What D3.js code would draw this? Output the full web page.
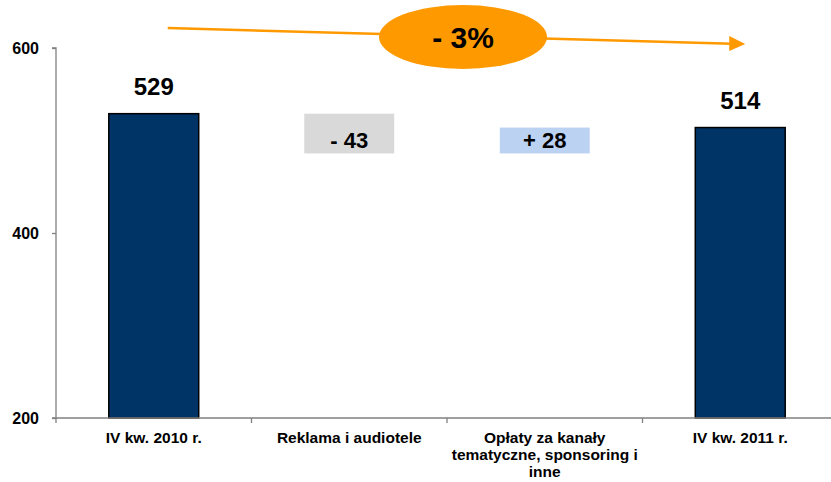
<!DOCTYPE html>
<html>
<head>
<meta charset="utf-8">
<script src="https://cdn.jsdelivr.net/npm/d3@7"></script>
<style>
  html, body { margin: 0; padding: 0; background: #ffffff; }
  svg { display: block; font-family: "Liberation Sans", Arial, sans-serif; }
</style>
</head>
<body>
<svg id="chart" width="831" height="482"></svg>
<script>
// ---- data ----
const categories = ["IV kw. 2010 r.", "Reklama i audiotele", "Opłaty za kanały tematyczne, sponsoring i inne", "IV kw. 2011 r."];
const values = [529, -43, 28, 514];
const kinds = ["total", "delta", "delta", "total"];
const valueLabels = ["529", "- 43", "+ 28", "514"];
const yTicks = [200, 400, 600];
const changeLabel = "- 3%";

// ---- layout ----
const plotLeft = 56, plotRight = 838, plotTop = 48, plotBottom = 418;
const svg = d3.select("#chart");

const x = d3.scaleBand().domain(categories).range([plotLeft, plotRight]).padding(0);
const y = d3.scaleLinear().domain([200, 600]).range([plotBottom, plotTop]);
const barW = x.bandwidth() * 0.46;

// waterfall
let running = 0;
const bars = categories.map((c, i) => {
  let y0, y1;
  if (kinds[i] === "total") { y0 = 200; y1 = values[i]; running = values[i]; }
  else { y0 = running; y1 = running + values[i]; running = y1; }
  return { cat: c, lo: Math.min(y0, y1), hi: Math.max(y0, y1), kind: kinds[i], v: values[i], label: valueLabels[i] };
});

const fillFor = d => d.kind === "total" ? "#003366" : (d.v < 0 ? "#D9D9D9" : "#BCD2F2");

svg.selectAll("rect.bar").data(bars).enter().append("rect")
  .attr("class", "bar")
  .attr("x", d => x(d.cat) + (x.bandwidth() - barW) / 2)
  .attr("width", barW)
  .attr("y", d => y(d.hi))
  .attr("height", d => y(d.lo) - y(d.hi))
  .attr("fill", fillFor)
  .attr("stroke", d => d.kind === "total" ? "#000" : "none")
  .attr("stroke-width", 1.5);

// value labels
svg.selectAll("text.val").data(bars).enter().append("text")
  .attr("class", "val")
  .attr("x", d => x(d.cat) + x.bandwidth() / 2)
  .attr("y", d => d.kind === "total" ? y(d.hi) - 19 : y(d.lo) - 5)
  .attr("text-anchor", "middle")
  .attr("font-weight", "bold")
  .attr("font-size", d => d.kind === "total" ? 24 : 22)
  .attr("fill", "#000")
  .text(d => d.label);

// y axis
const yAxis = d3.axisLeft(y).tickValues(yTicks).tickSize(4).tickPadding(13).tickFormat(d3.format("d"));
const gy = svg.append("g").attr("transform", `translate(${plotLeft},0)`).call(yAxis);
gy.select(".domain").attr("stroke", "#808080").attr("stroke-width", 1.3).attr("d", `M-4,${plotTop}H0V${plotBottom}H-4`);
gy.selectAll(".tick line").attr("stroke", "#808080").attr("stroke-width", 1.3);
gy.selectAll(".tick text").attr("font-size", 16).attr("font-weight", "bold").attr("fill", "#000")
  .attr("font-family", "Liberation Sans, Arial, sans-serif");

// x axis
const gx = svg.append("g").attr("transform", `translate(0,${plotBottom})`);
gx.append("line").attr("x1", plotLeft).attr("x2", plotRight).attr("y1", 0).attr("y2", 0)
  .attr("stroke", "#808080").attr("stroke-width", 1.3);
const bounds = categories.map(c => x(c)).concat([plotRight]);
gx.selectAll("line.tk").data(bounds).enter().append("line").attr("class", "tk")
  .attr("x1", d => d).attr("x2", d => d).attr("y1", 0).attr("y2", 5)
  .attr("stroke", "#808080").attr("stroke-width", 1.3);

// category labels with wrapping
const catFont = 15.5;
const maxW = x.bandwidth() - 4;
const measurer = svg.append("text").attr("font-size", catFont).attr("font-weight", "bold").attr("visibility", "hidden");
function wrapLines(str) {
  const words = str.split(" ");
  const lines = [];
  let cur = "";
  words.forEach(w => {
    const test = cur ? cur + " " + w : w;
    measurer.text(test);
    if (measurer.node().getComputedTextLength() > maxW && cur) { lines.push(cur); cur = w; }
    else cur = test;
  });
  if (cur) lines.push(cur);
  return lines;
}
categories.forEach(c => {
  const lines = wrapLines(c);
  const t = svg.append("text")
    .attr("x", x(c) + x.bandwidth() / 2)
    .attr("y", 443)
    .attr("text-anchor", "middle")
    .attr("font-size", catFont)
    .attr("font-weight", "bold")
    .attr("fill", "#000");
  lines.forEach((l, i) => {
    t.append("tspan").attr("x", x(c) + x.bandwidth() / 2).attr("dy", i === 0 ? 0 : 17).text(l);
  });
});
measurer.remove();

// change annotation (arrow + ellipse)
const orange = "#FF9900";
const ax0 = x(categories[0]) + x.bandwidth() / 2 + 14, ay0 = 28;
const ax1 = x(categories[3]) + x.bandwidth() / 2 + 4, ay1 = 44;
svg.append("line").attr("x1", ax0).attr("y1", ay0).attr("x2", ax1 - 12).attr("y2", ay1 - 0.3)
  .attr("stroke", orange).attr("stroke-width", 2.5);
svg.append("path")
  .attr("d", `M${ax1 - 15},${ay1 - 8}L${ax1 + 1},${ay1}L${ax1 - 15},${ay1 + 7}Z`)
  .attr("fill", orange);
svg.append("ellipse").attr("cx", 463).attr("cy", 37).attr("rx", 84).attr("ry", 32).attr("fill", orange);
svg.append("text").attr("x", 463).attr("y", 48).attr("text-anchor", "middle")
  .attr("font-size", 30).attr("font-weight", "bold").attr("fill", "#000").text(changeLabel);
</script>
</body>
</html>
